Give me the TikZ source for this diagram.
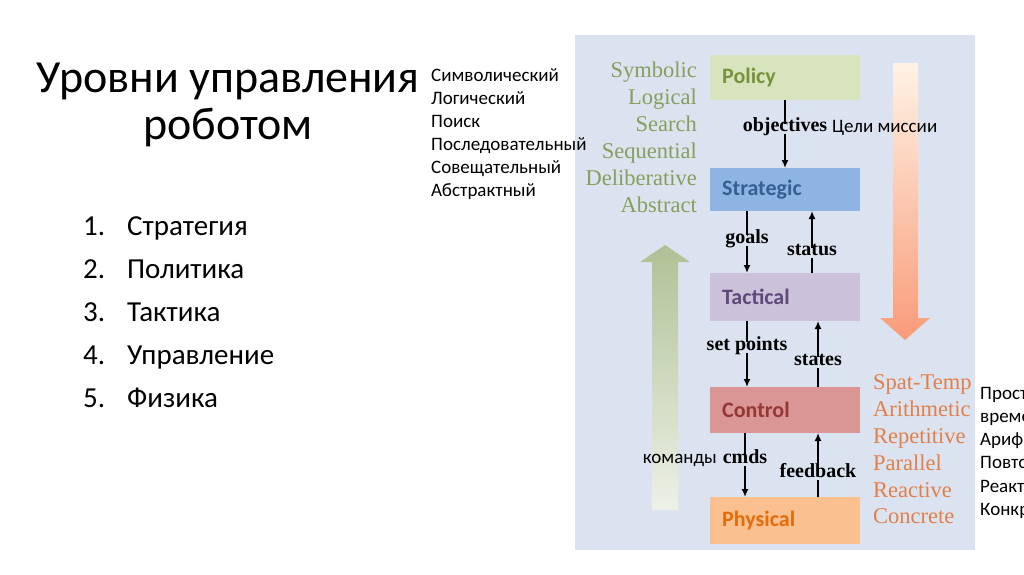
\documentclass[tikz,border=0pt]{standalone}
\usepackage{fontspec}
\setmainfont{Carlito}
\newfontfamily\serf{Liberation Serif}
\usetikzlibrary{arrows.meta}
\definecolor{panel}{HTML}{DCE3F0}
\definecolor{gtxt}{HTML}{859F5C}
\definecolor{otxt}{HTML}{E0804A}
\tikzset{
  box/.style={minimum width=150pt,inner sep=0pt,text width=142pt,font=\fontsize{22}{24}\selectfont\bfseries,anchor=north west},
  lbl/.style={font=\serf\fontsize{20}{22}\selectfont\bfseries,fill=panel,inner sep=1pt,text height=1.5ex,text depth=.3ex,yshift=-3pt},
  ln/.style={line width=2pt,-{Latex[length=8pt,width=7pt]}},
  rus/.style={font=\fontsize{19}{21}\selectfont,anchor=west,inner sep=0pt,text height=1.6ex,text depth=.3ex,yshift=-3pt},
  fx/.style={inner sep=0pt,text height=1.6ex,text depth=.3ex,yshift=-3pt},
}
\begin{document}
\begin{tikzpicture}[x=1pt,y=-1pt]
\useasboundingbox (0,0) rectangle (1024,574);
\fill[white] (0,0) rectangle (1024,574);
\clip (0,0) rectangle (1024,574);
\fill[panel] (575,35) rectangle (975,550);
% big arrows
\shade[top color=gtxt!65!white, bottom color=white!85!gtxt]
  (652,510) -- (652,262) -- (640,262) -- (665,245) -- (690,262) -- (678,262) -- (678,510) -- cycle;
\shade[top color=orange!10!white, bottom color={rgb,255:red,249;green,155;blue,120}]
  (893,63) -- (918,63) -- (918,318) -- (930,318) -- (905,340) -- (880,318) -- (893,318) -- cycle;
% boxes
\node[box,fill={rgb,255:red,215;green,228;blue,189},minimum height=45pt,text={rgb,255:red,119;green,147;blue,60}] (pol) at (710,55) {\hspace*{8pt}Policy};
\node[box,fill={rgb,255:red,142;green,180;blue,227},minimum height=43pt,text={rgb,255:red,55;green,96;blue,146}] (str) at (710,168) {\hspace*{8pt}Strategic};
\node[box,fill={rgb,255:red,204;green,193;blue,218},minimum height=48pt,text={rgb,255:red,95;green,73;blue,122}] (tac) at (710,273) {\hspace*{8pt}Tactical};
\node[box,fill={rgb,255:red,217;green,150;blue,148},minimum height=46pt,text={rgb,255:red,149;green,55;blue,53}] (con) at (710,387) {\hspace*{8pt}Control};
\node[box,fill={rgb,255:red,250;green,192;blue,144},minimum height=47pt,text={rgb,255:red,228;green,108;blue,10}] (phy) at (710,497) {\hspace*{8pt}Physical};
% connectors
\coordinate (a1) at (785,100); \coordinate (a2) at (785,168);
\draw[ln] (a1) -- node[lbl,pos=0.38]{objectives} (a2);
\node[rus,anchor=west] at (832,126) {Цели миссии};
\coordinate (g1) at (747,211); \coordinate (g2) at (747,273);
\draw[ln] (g1) -- node[lbl,pos=0.43]{goals} (g2);
\coordinate (s1) at (812,273); \coordinate (s2) at (812,211);
\draw[ln] (s1) -- node[lbl,pos=0.37]{status} (s2);
\coordinate (p1) at (747,321); \coordinate (p2) at (747,387);
\draw[ln] (p1) -- node[lbl,pos=0.36]{set points} (p2);
\coordinate (t1) at (818,387); \coordinate (t2) at (818,321);
\draw[ln] (t1) -- node[lbl,pos=0.42]{states} (t2);
\coordinate (c1) at (745,433); \coordinate (c2) at (745,497);
\draw[ln] (c1) -- node[lbl,pos=0.38]{cmds} (c2);
\node[rus,anchor=east] at (717,457) {команды};
\coordinate (f1) at (818,497); \coordinate (f2) at (818,433);
\draw[ln] (f1) -- node[lbl,pos=0.4]{feedback} (f2);
% green list
\foreach \t [count=\i] in {Symbolic,Logical,Search,Sequential,Deliberative,Abstract}
  \node[fx,anchor=east,text=gtxt,font=\serf\fontsize{22.5}{24}\selectfont] at (697,44+27*\i) {\t};
% orange list
\foreach \t [count=\i] in {Spat-Temp,Arithmetic,Repetitive,Parallel,Reactive,Concrete}
  \node[fx,anchor=west,text=otxt,font=\serf\fontsize{22.5}{24}\selectfont] at (873,357+26.8*\i) {\t};
% russian lists
\foreach \t [count=\i] in {Символический,Логический,Поиск,Последовательный,Совещательный,Абстрактный}
  \node[rus] at (431,52+23*\i) {\t};
\foreach \t [count=\i] in {Пространственно-,временной,Арифметический,Повторяющийся,Реактивный,Конкретный}
  \node[rus] at (980,370+23.2*\i) {\t};
% title
\node[fx,font=\fontsize{46}{48}\selectfont] (h1) at (228,86) {Уровни управления};
\node[fx,font=\fontsize{46}{48}\selectfont] (h2) at (228,133) {роботом};
\foreach \t [count=\i] in {Стратегия,Политика,Тактика,Управление,Физика}{
  \node[fx,anchor=west,font=\fontsize{29}{31}\selectfont] at (83,186+43*\i) {\i.};
  \node[fx,anchor=west,font=\fontsize{29}{31}\selectfont] at (127,186+43*\i) {\t};
}
\end{tikzpicture}
\end{document}
